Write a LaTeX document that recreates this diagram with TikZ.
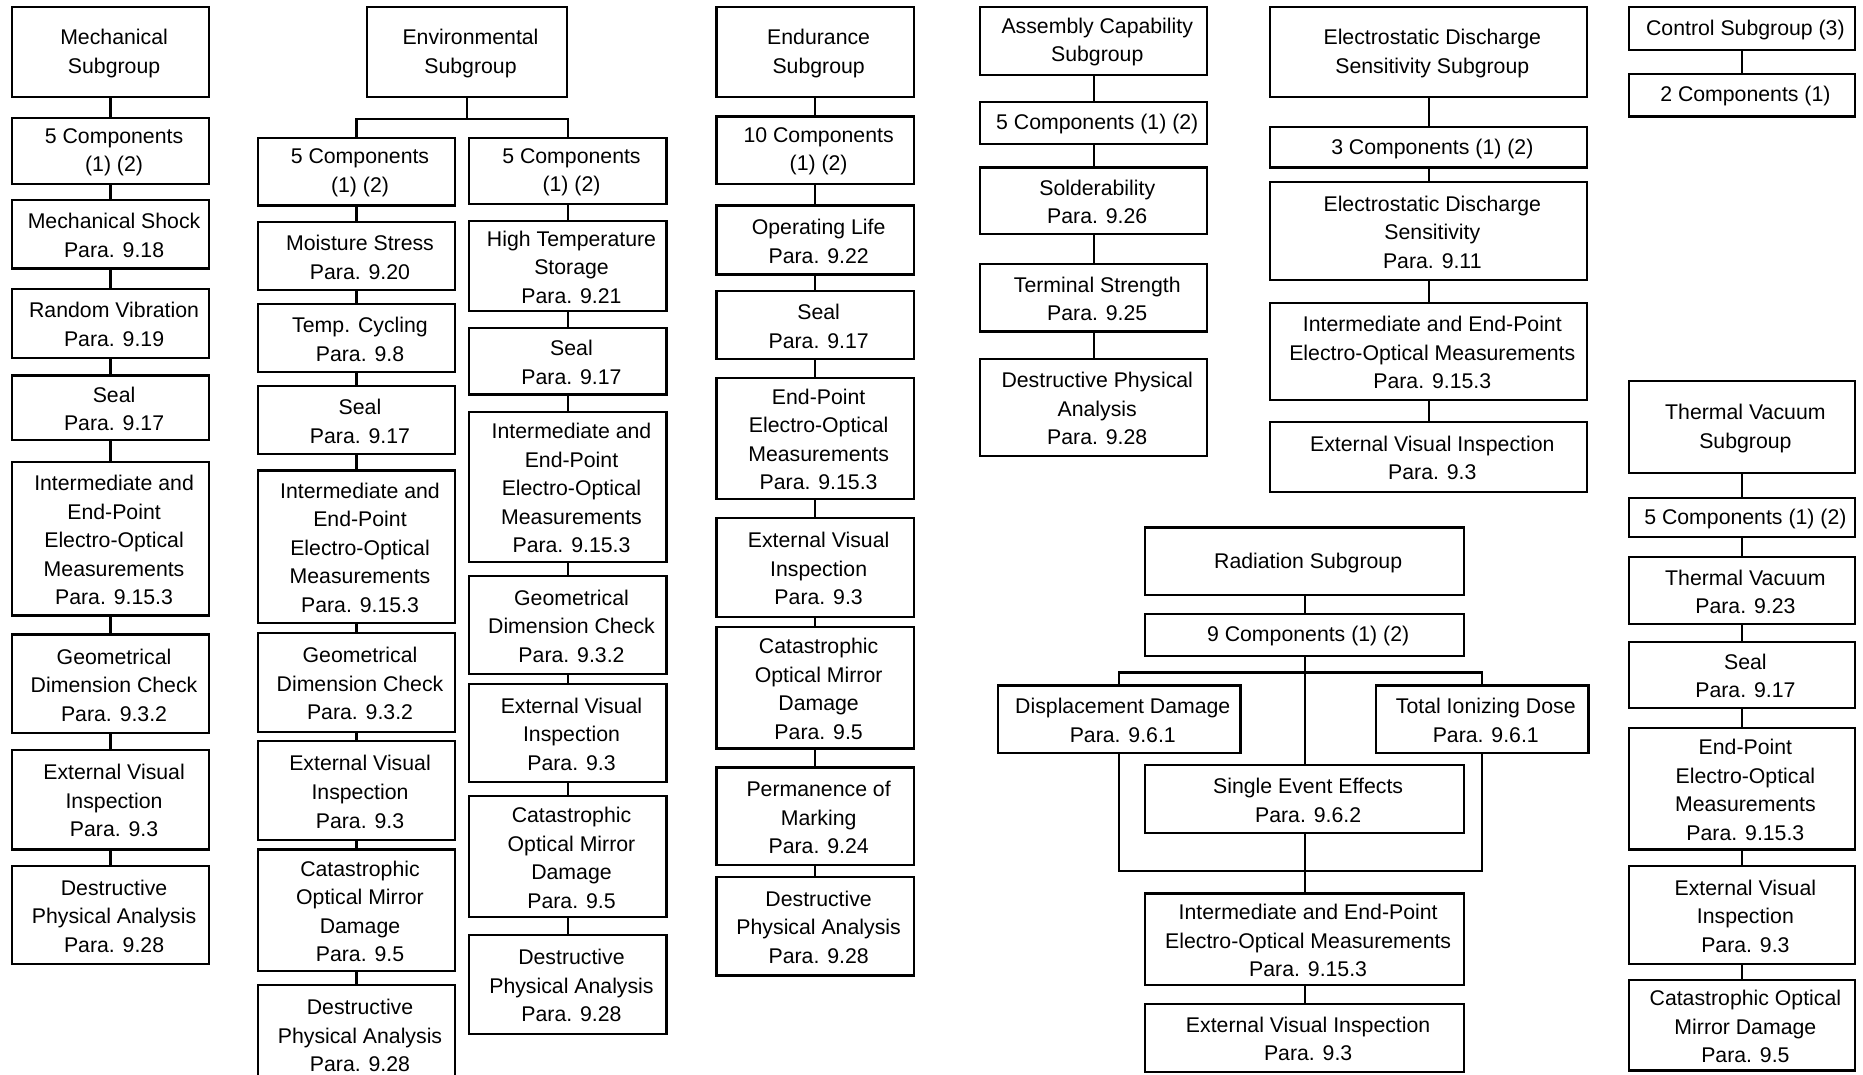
\documentclass[tikz,border=0pt]{standalone}
\usepackage{fontspec}
\setmainfont{Liberation Sans}
\newcommand\boxat[6]{\node[box, minimum width={(#4-#2)*0.5pt}, minimum height={(#5-#3)*0.5pt}, label={[boxtext]center:{#6}}] (#1) at ({(#2+#4)/2},{(#3+#5)/2}) {};}
\begin{document}
\begin{tikzpicture}[x=0.5pt,y=-0.5pt,
  box/.style={draw, line width=0.9pt, inner sep=0pt},
  boxtext/.style={inner sep=0pt, align=center, xshift=1.5pt, yshift=-0.5pt, font=\fontsize{8.95pt}{12pt}\selectfont},
  conn/.style={line width=0.9pt}]
\clip (0,0) rectangle (1568,904);
% Mechanical
\boxat{m0}{10}{6}{176}{82}{Mechanical\\Subgroup}
\boxat{m1}{10}{99}{176}{155}{5 Components\\(1) (2)}
\boxat{m2}{10}{168}{176}{226}{Mechanical Shock\\Para. 9.18}
\boxat{m3}{10}{243}{176}{301}{Random Vibration\\Para. 9.19}
\boxat{m4}{10}{316}{176}{370}{Seal\\Para. 9.17}
\boxat{m5}{10}{389}{176}{518}{Intermediate and\\End-Point\\Electro-Optical\\Measurements\\Para. 9.15.3}
\boxat{m6}{10}{534}{176}{617}{Geometrical\\Dimension Check\\Para. 9.3.2}
\boxat{m7}{10}{631}{176}{715}{External Visual\\Inspection\\Para. 9.3}
\boxat{m8}{10}{729}{176}{811}{Destructive\\Physical Analysis\\Para. 9.28}
% Environmental
\boxat{e0}{309}{6}{477}{82}{Environmental\\Subgroup}
\boxat{a1}{217}{116}{383}{173}{5 Components\\(1) (2)}
\boxat{a2}{217}{187}{383}{244}{Moisture Stress\\Para. 9.20}
\boxat{a3}{217}{256}{383}{313}{Temp. Cycling\\Para. 9.8}
\boxat{a4}{217}{325}{383}{382}{Seal\\Para. 9.17}
\boxat{a5}{217}{396}{383}{524}{Intermediate and\\End-Point\\Electro-Optical\\Measurements\\Para. 9.15.3}
\boxat{a6}{217}{533}{383}{616}{Geometrical\\Dimension Check\\Para. 9.3.2}
\boxat{a7}{217}{624}{383}{707}{External Visual\\Inspection\\Para. 9.3}
\boxat{a8}{217}{715}{383}{817}{Catastrophic\\Optical Mirror\\Damage\\Para. 9.5}
\boxat{a9}{217}{829}{383}{912}{Destructive\\Physical Analysis\\Para. 9.28}
\boxat{b1}{395}{116}{561}{172}{5 Components\\(1) (2)}
\boxat{b2}{395}{186}{561}{262}{High Temperature\\Storage\\Para. 9.21}
\boxat{b3}{395}{276}{561}{332}{Seal\\Para. 9.17}
\boxat{b4}{395}{347}{561}{473}{Intermediate and\\End-Point\\Electro-Optical\\Measurements\\Para. 9.15.3}
\boxat{b5}{395}{485}{561}{567}{Geometrical\\Dimension Check\\Para. 9.3.2}
\boxat{b6}{395}{576}{561}{658}{External Visual\\Inspection\\Para. 9.3}
\boxat{b7}{395}{670}{561}{772}{Catastrophic\\Optical Mirror\\Damage\\Para. 9.5}
\boxat{b8}{395}{787}{561}{870}{Destructive\\Physical Analysis\\Para. 9.28}
% Endurance
\boxat{n0}{603}{6}{769}{82}{Endurance\\Subgroup}
\boxat{n1}{603}{98}{769}{155}{10 Components\\(1) (2)}
\boxat{n2}{603}{173}{769}{231}{Operating Life\\Para. 9.22}
\boxat{n3}{603}{245}{769}{302}{Seal\\Para. 9.17}
\boxat{n4}{603}{318}{769}{420}{End-Point\\Electro-Optical\\Measurements\\Para. 9.15.3}
\boxat{n5}{603}{436}{769}{519}{External Visual\\Inspection\\Para. 9.3}
\boxat{n6}{603}{528}{769}{630}{Catastrophic\\Optical Mirror\\Damage\\Para. 9.5}
\boxat{n7}{603}{646}{769}{728}{Permanence of\\Marking\\Para. 9.24}
\boxat{n8}{603}{738}{769}{821}{Destructive\\Physical Analysis\\Para. 9.28}
% Assembly
\boxat{s0}{825}{6}{1016}{63}{Assembly Capability\\Subgroup}
\boxat{s1}{825}{86}{1016}{121}{5 Components (1) (2)}
\boxat{s2}{825}{141}{1016}{197}{Solderability\\Para. 9.26}
\boxat{s3}{825}{222}{1016}{279}{Terminal Strength\\Para. 9.25}
\boxat{s4}{825}{302}{1016}{384}{Destructive Physical\\Analysis\\Para. 9.28}
% ESD
\boxat{d0}{1069}{6}{1336}{82}{Electrostatic Discharge\\Sensitivity Subgroup}
\boxat{d1}{1069}{107}{1336}{141}{3 Components (1) (2)}
\boxat{d2}{1069}{153}{1336}{236}{Electrostatic Discharge\\Sensitivity\\Para. 9.11}
\boxat{d3}{1069}{255}{1336}{337}{Intermediate and End-Point\\Electro-Optical Measurements\\Para. 9.15.3}
\boxat{d4}{1069}{355}{1336}{414}{External Visual Inspection\\Para. 9.3}
% Control
\boxat{c0}{1371}{6}{1561}{42}{Control Subgroup (3)}
\boxat{c1}{1371}{62}{1561}{98}{2 Components (1)}
% Thermal vacuum
\boxat{t0}{1371}{321}{1561}{398}{Thermal Vacuum\\Subgroup}
\boxat{t1}{1371}{419}{1561}{452}{5 Components (1) (2)}
\boxat{t2}{1371}{469}{1561}{525}{Thermal Vacuum\\Para. 9.23}
\boxat{t3}{1371}{540}{1561}{596}{Seal\\Para. 9.17}
\boxat{t4}{1371}{613}{1561}{715}{End-Point\\Electro-Optical\\Measurements\\Para. 9.15.3}
\boxat{t5}{1371}{729}{1561}{811}{External Visual\\Inspection\\Para. 9.3}
\boxat{t6}{1371}{825}{1561}{901}{Catastrophic Optical\\Mirror Damage\\Para. 9.5}
% Radiation
\boxat{r0}{964}{444}{1232}{501}{Radiation Subgroup}
\boxat{r1}{964}{517}{1232}{552}{9 Components (1) (2)}
\boxat{r2}{840}{577}{1044}{634}{Displacement Damage\\Para. 9.6.1}
\boxat{r3}{1158}{577}{1337}{634}{Total Ionizing Dose\\Para. 9.6.1}
\boxat{r4}{964}{644}{1232}{701}{Single Event Effects\\Para. 9.6.2}
\boxat{r5}{964}{752}{1232}{829}{Intermediate and End-Point\\Electro-Optical Measurements\\Para. 9.15.3}
\boxat{r6}{964}{845}{1232}{902}{External Visual Inspection\\Para. 9.3}
% connectors
\foreach \p/\q in {m0/m1,m1/m2,m2/m3,m3/m4,m4/m5,m5/m6,m6/m7,m7/m8,
  a1/a2,a2/a3,a3/a4,a4/a5,a5/a6,a6/a7,a7/a8,a8/a9,
  b1/b2,b2/b3,b3/b4,b4/b5,b5/b6,b6/b7,b7/b8,
  n0/n1,n1/n2,n2/n3,n3/n4,n4/n5,n5/n6,n6/n7,n7/n8,
  s0/s1,s1/s2,s2/s3,s3/s4,
  d0/d1,d1/d2,d2/d3,d3/d4,
  c0/c1,
  t0/t1,t1/t2,t2/t3,t3/t4,t4/t5,t5/t6,
  r0/r1,r1/r4,r5/r6}
  \draw[conn] (\p.south) -- (\q.north);
\draw[conn] (e0.south) -- ++(0,17) coordinate (ebus);
\draw[conn] (a1.north) -- (a1.north |- ebus) -- (b1.north |- ebus) -- (b1.north);
\coordinate (rbus) at (1098,566);
\coordinate (rbus2) at (1098,733);
\draw[conn] (r2.north) -- (r2.north |- rbus) -- (r3.north |- rbus) -- (r3.north);
\draw[conn] (r2.south) -- (r2.south |- rbus2) -- (r3.south |- rbus2) -- (r3.south);
\draw[conn] (r4.south) -- (r5.north);
\end{tikzpicture}
\end{document}
